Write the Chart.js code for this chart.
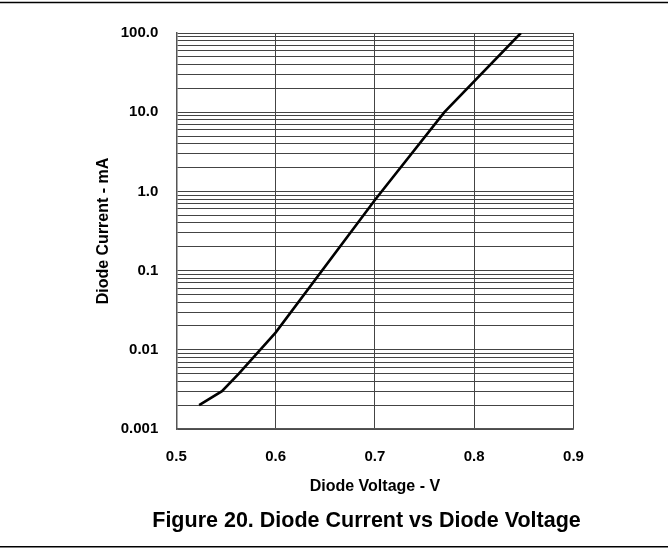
<!DOCTYPE html>
<html lang="en">
<head>
    <meta charset="UTF-8">
    <title>Figure 20. Diode Current vs Diode Voltage</title>
    <script src="https://cdn.jsdelivr.net/npm/chart.js"></script>
    <style>
        body {
            margin: 0;
            padding: 0;
            background-color: white;
        }
        #wrap {
            width: 668px;
            height: 548px;
        }
    </style>
</head>
<body>

<div id="wrap">
    <canvas id="grafico" width="668" height="548"></canvas>
</div>

<script>
    // Datos
    const voltaje = [0.523, 0.546, 0.563, 0.600, 0.700, 0.770, 0.847];
    const corriente = [0.002, 0.003, 0.005, 0.0165, 0.78, 10.0, 100.0];

    const xTicks = [0.5, 0.6, 0.7, 0.8, 0.9];
    const yDecadas = [0.001, 0.01, 0.1, 1, 10, 100];
    const yEtiquetas = ['0.001', '0.01', '0.1', '1.0', '10.0', '100.0'];

    const titulo = 'Figure 20. Diode Current vs Diode Voltage';
    const fuente = 'Arial, "Liberation Sans", sans-serif';

    // lineas de rejilla: 1..9 en cada decada
    function ticksLog() {
        let lista = [];
        for (let i = 0; i < yDecadas.length - 1; i++) {
            for (let m = 1; m < 10; m++) {
                lista.push({ value: yDecadas[i] * m });
            }
        }
        lista.push({ value: yDecadas[yDecadas.length - 1] });
        return lista;
    }

    const puntos = voltaje.map((v, i) => ({ x: v, y: corriente[i] }));

    // reglas horizontales arriba y abajo, y el pie de figura
    const marco = {
        id: 'marco',
        afterDraw(chart) {
            const ctx = chart.ctx;
            ctx.save();
            ctx.strokeStyle = '#000';
            ctx.lineWidth = 1.5;
            ctx.beginPath();
            ctx.moveTo(0, 2.5);
            ctx.lineTo(chart.width, 2.5);
            ctx.moveTo(0, 546.8);
            ctx.lineTo(chart.width, 546.8);
            ctx.stroke();

            ctx.fillStyle = '#000';
            ctx.font = 'bold 21.5px ' + fuente;
            ctx.textAlign = 'center';
            ctx.textBaseline = 'alphabetic';
            ctx.fillText(titulo, 366.5, 527);
            ctx.restore();
        }
    };

    new Chart(document.getElementById('grafico').getContext('2d'), {
        type: 'scatter',
        data: {
            datasets: [{
                data: puntos,
                showLine: true,
                borderColor: '#000',
                borderWidth: 2.6,
                pointRadius: 0,
                tension: 0,
                fill: false
            }]
        },
        options: {
            responsive: false,
            animation: false,
            layout: {
                padding: { left: 90, right: 94.5, top: 33, bottom: 44 }
            },
            plugins: {
                legend: { display: false },
                tooltip: { enabled: false },
                title: { display: false }
            },
            scales: {
                x: {
                    type: 'linear',
                    min: 0.5,
                    max: 0.9,
                    afterBuildTicks: (scale) => {
                        scale.ticks = xTicks.map(v => ({ value: v }));
                    },
                    afterFit: (scale) => { scale.height = 75; },
                    ticks: {
                        color: '#000',
                        padding: 19,
                        font: { family: fuente, size: 15, weight: 'bold' },
                        callback: (v) => v.toFixed(1)
                    },
                    grid: {
                        color: '#444',
                        lineWidth: 1,
                        drawTicks: false
                    },
                    border: { color: '#555', width: 1.5 },
                    title: {
                        display: true,
                        text: 'Diode Voltage - V',
                        color: '#000',
                        font: { family: fuente, size: 16, weight: 'bold' },
                        padding: { top: 4, bottom: 7.4 }
                    }
                },
                y: {
                    type: 'logarithmic',
                    min: 0.001,
                    max: 100,
                    afterBuildTicks: (scale) => {
                        scale.ticks = ticksLog();
                    },
                    afterFit: (scale) => { scale.width = 86.3; },
                    ticks: {
                        color: '#000',
                        padding: 18,
                        autoSkip: false,
                        font: { family: fuente, size: 15, weight: 'bold' },
                        callback: (v) => {
                            for (let i = 0; i < yDecadas.length; i++) {
                                if (Math.abs(v - yDecadas[i]) / yDecadas[i] < 1e-6) {
                                    return yEtiquetas[i];
                                }
                            }
                            return '';
                        }
                    },
                    grid: {
                        color: '#444',
                        lineWidth: 1,
                        drawTicks: false
                    },
                    border: { color: '#555', width: 1.5 },
                    title: {
                        display: true,
                        text: 'Diode Current - mA',
                        color: '#000',
                        font: { family: fuente, size: 16, weight: 'bold' },
                        padding: { top: 4, bottom: 4 }
                    }
                }
            }
        },
        plugins: [marco]
    });
</script>

</body>
</html>
